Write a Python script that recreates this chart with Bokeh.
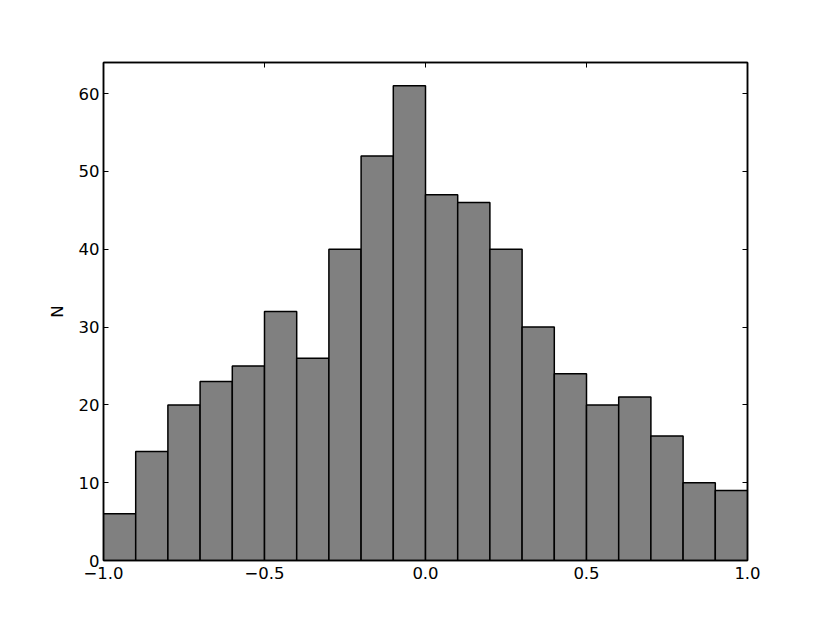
from bokeh.plotting import figure
from bokeh.models import LinearAxis, FixedTicker, CustomJSTickFormatter, Range1d
from bokeh.embed import file_html
from bokeh.resources import INLINE

bin_left = [-1.0, -0.9, -0.8, -0.7, -0.6, -0.5, -0.4, -0.3, -0.2, -0.1,
            0.0, 0.1, 0.2, 0.3, 0.4, 0.5, 0.6, 0.7, 0.8, 0.9]
bin_right = [-0.9, -0.8, -0.7, -0.6, -0.5, -0.4, -0.3, -0.2, -0.1, 0.0,
             0.1, 0.2, 0.3, 0.4, 0.5, 0.6, 0.7, 0.8, 0.9, 1.0]
counts = [6, 14, 20, 23, 25, 32, 26, 40, 52, 61,
          47, 46, 40, 30, 24, 20, 21, 16, 10, 9]
x_ticks = [-1.0, -0.5, 0.0, 0.5, 1.0]
y_ticks = [0, 10, 20, 30, 40, 50, 60]

FONT = "DejaVu Sans"

p = figure(output_backend="svg", toolbar_location=None,
           frame_width=644, frame_height=498,
           min_border_left=103, min_border_right=75,
           min_border_top=62, min_border_bottom=55,
           x_range=Range1d(-1.0, 1.0), y_range=Range1d(0, 64),
           x_axis_location=None, y_axis_location=None)

p.quad(left=bin_left, right=bin_right, bottom=0, top=counts,
       fill_color="#808080", line_color="black", line_width=1.5)

p.xgrid.visible = False
p.ygrid.visible = False
p.outline_line_color = "black"
p.outline_line_width = 1.5
p.background_fill_color = "white"
p.border_fill_color = "white"

xfmt = CustomJSTickFormatter(code="return tick.toFixed(1).replace('-', '\u2212');")
yfmt = CustomJSTickFormatter(code="return tick.toFixed(0);")
blank = CustomJSTickFormatter(code="return '';")

def style(ax):
    ax.major_tick_in = 5
    ax.major_tick_out = 0
    ax.minor_tick_in = 0
    ax.minor_tick_out = 0
    ax.major_tick_line_color = "black"
    ax.major_tick_line_width = 1
    ax.axis_line_color = "black"
    ax.axis_line_width = 1.5
    ax.major_label_text_font = FONT
    ax.major_label_text_font_size = "16.5px"
    ax.major_label_text_color = "black"
    ax.axis_label_text_font = FONT
    ax.axis_label_text_font_size = "16.5px"
    ax.axis_label_text_font_style = "normal"
    ax.axis_label_text_color = "black"

xb = LinearAxis(ticker=FixedTicker(ticks=x_ticks), formatter=xfmt)
style(xb)
xb.major_label_standoff = 6
p.add_layout(xb, "below")

xt = LinearAxis(ticker=FixedTicker(ticks=x_ticks), formatter=blank)
style(xt)
xt.major_label_standoff = 0
p.add_layout(xt, "above")

yl = LinearAxis(ticker=FixedTicker(ticks=y_ticks), formatter=yfmt, axis_label="N")
style(yl)
yl.major_label_standoff = 4
yl.axis_label_standoff = 9
p.add_layout(yl, "left")

yr = LinearAxis(ticker=FixedTicker(ticks=y_ticks), formatter=blank)
style(yr)
yr.major_label_standoff = 0
p.add_layout(yr, "right")

open("out.html", "w").write(file_html(p, INLINE))
